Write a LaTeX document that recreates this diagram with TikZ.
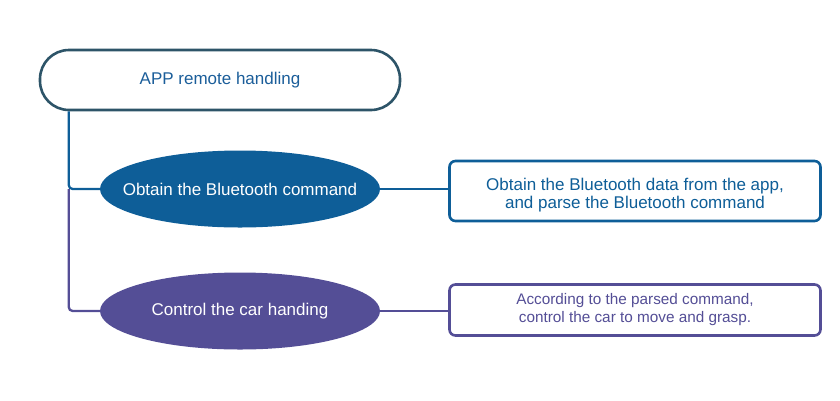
\documentclass[tikz,border=0pt]{standalone}
\usepackage{fontspec}
\setmainfont{Liberation Sans}
\usetikzlibrary{shapes.geometric}

\definecolor{topline}{RGB}{45,84,104}
\definecolor{toptext}{RGB}{27,94,154}
\definecolor{btblue}{RGB}{14,94,152}
\definecolor{carpurple}{RGB}{84,78,150}

\tikzset{
    headbox/.style={draw=topline, line width=2.6pt, rounded corners=29pt, fill=white,
        minimum width=360pt, minimum height=60pt, text=toptext,
        font=\fontsize{17}{20}\selectfont},
    stepoval/.style={ellipse, fill=#1, draw=none, text=white, inner sep=0pt,
        minimum width=280pt, minimum height=77pt, font=\fontsize{17}{20}\selectfont},
    infobox/.style={draw=#1, line width=2.6pt, rounded corners=6pt, fill=white,
        minimum width=371pt},
    infotext/.style={text=#1, align=center},
    link/.style={draw=#1, line width=2.3pt, rounded corners=4pt}
}

\begin{document}
\begin{tikzpicture}[x=1pt,y=-1pt]
        \useasboundingbox (0,0) rectangle (840,400);

        % top
        \node[headbox] (app) at (220,80) {APP remote handling};

        % the two steps
        \node[stepoval=btblue] (bt) at (240,189) {\makebox[0pt]{Obtain the Bluetooth command}};
        \node[stepoval=carpurple] (car) at (240,311) {\makebox[0pt]{Control the car handing}};

        \node[infobox=btblue, minimum height=60pt] (btinfo) at (635,191) {};
        \node[infotext=btblue, font=\fontsize{17}{18}\selectfont] (bttext)
            at ([yshift=-4pt]btinfo.center)
            {Obtain the Bluetooth data from the app,\\ and parse the Bluetooth command};
        \node[infobox=carpurple, minimum height=51pt] (carinfo) at (635,310) {};
        \node[infotext=carpurple, font=\fontsize{15.3}{18}\selectfont] (cartext)
            at (carinfo.center)
            {According to the parsed command,\\ control the car to move and grasp.};

        % lines
        \coordinate (spine) at ([xshift=30pt]app.south west);
        \draw[link=carpurple] (spine |- bt.west) -- (spine |- car.west) -- (car.west);
        \draw[link=btblue] (spine) -- (spine |- bt.west) -- (bt.west);
        \draw[link=btblue] (bt.east) -- (btinfo.west |- bt.east);
        \draw[link=carpurple] (car.east) -- (carinfo.west |- car.east);
\end{tikzpicture}
\end{document}
